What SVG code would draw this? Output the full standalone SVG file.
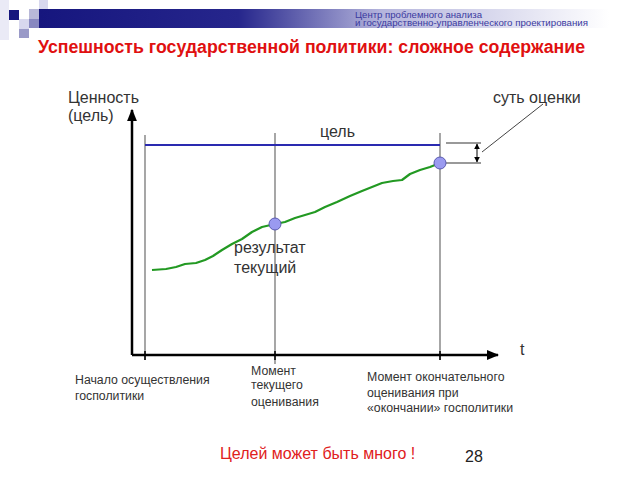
<svg xmlns="http://www.w3.org/2000/svg" width="640" height="480" viewBox="0 0 640 480">
<style>
text{font-family:"Liberation Sans",Arial,sans-serif;fill:#333}
.lbl{font-size:16px}
.sm{font-size:12.3px}
.hd{font-size:8.6px;fill:#3a3aa0}
.guide{stroke:#777;stroke-width:1.3;fill:none}
.axis{stroke:#000;stroke-width:2.5;fill:none}
.dot{fill:#9a9af0;stroke:#5a5ab0;stroke-width:1}
</style>
<defs>
<linearGradient id="bar" x1="0" y1="0" x2="1" y2="0">
<stop offset="0" stop-color="#16167e"/>
<stop offset="0.35" stop-color="#26268c"/>
<stop offset="0.6" stop-color="#b4b4dc"/>
<stop offset="1" stop-color="#ffffff"/>
</linearGradient>
<marker id="ah" viewBox="0 0 10 10" refX="9" refY="5" markerWidth="6" markerHeight="6" orient="auto-start-reverse" markerUnits="userSpaceOnUse">
<path d="M0,0 L10,5 L0,10 z" fill="#000"/>
</marker>
<marker id="big" viewBox="0 0 10 10" refX="9" refY="5" markerWidth="5" markerHeight="5" orient="auto" markerUnits="strokeWidth">
<path d="M0,1 L10,5 L0,9 z" fill="#000"/>
</marker>
</defs>
<g id="header">
<rect x="0" y="0" width="9" height="40" fill="#eaeaf6"/>
<rect x="39" y="9" width="570" height="19" fill="url(#bar)"/>
<rect x="9" y="10" width="10" height="10" fill="#16167e"/>
<rect x="29" y="9" width="10" height="10" fill="#b8b8d8"/>
<rect x="39" y="0" width="9" height="9" fill="#d8d8ee"/>
<rect x="19" y="19" width="10" height="10" fill="#d8d8ee"/>
<rect x="29" y="19" width="10" height="9" fill="#8888c0"/>
<rect x="19" y="29" width="10" height="9" fill="#9a9ac8"/>
<text class="hd" x="355" y="17.5" textLength="127" lengthAdjust="spacingAndGlyphs">Центр проблемного анализа</text>
<text class="hd" x="355" y="26" textLength="233" lengthAdjust="spacingAndGlyphs">и государственно-управленческого проектирования</text>
<text x="38" y="53" textLength="547" lengthAdjust="spacingAndGlyphs" style="font-size:17.5px;font-weight:bold;fill:#e01010">Успешность государственной политики: сложное содержание</text>
</g>
<g id="connectors">
<line class="guide" x1="145" y1="135" x2="145" y2="360"/>
<line class="guide" x1="275" y1="133" x2="275" y2="364"/>
<line class="guide" x1="440" y1="133" x2="440" y2="360"/>
<line x1="145" y1="145" x2="440" y2="145" stroke="#2a2ab0" stroke-width="2.2"/>
<polyline fill="none" stroke="#229922" stroke-width="2.2" stroke-linejoin="round" points="152,270 166,269 176,267 185,264 196,263 205,260 213,256 222,250 232,244 242,239 252,232 262,227 275,224 285,222 295,218 305,215 315,212 325,207 337,202 350,196 362,191 372,187 382,183 393,181 402,180 410,174 420,170 430,167 440,163"/>
<path class="axis" d="M132,355 L132,110" marker-end="url(#big)"/>
<path class="axis" d="M132,355 L498,355" marker-end="url(#big)"/>
<line x1="145" y1="351" x2="145" y2="360" stroke="#000" stroke-width="1.5"/>
<line x1="275" y1="351" x2="275" y2="360" stroke="#000" stroke-width="1.5"/>
<line x1="440" y1="351" x2="440" y2="360" stroke="#000" stroke-width="1.5"/>
<line class="guide" x1="446" y1="143" x2="481" y2="143"/>
<line class="guide" x1="446" y1="163" x2="481" y2="163"/>
<line x1="477" y1="144" x2="477" y2="162" stroke="#000" stroke-width="1" marker-start="url(#ah)" marker-end="url(#ah)"/>
<line x1="482" y1="152" x2="543" y2="104" stroke="#444" stroke-width="1"/>
</g>
<g id="node-current">
<circle class="dot" cx="275" cy="224" r="6"/>
<text class="lbl" x="234" y="253">результат</text>
<text class="lbl" x="234" y="273">текущий</text>
</g>
<g id="node-final">
<circle class="dot" cx="440" cy="163" r="6"/>
</g>
<g id="labels">
<text class="lbl" x="68" y="103">Ценность</text>
<text class="lbl" x="68" y="121">(цель)</text>
<text class="lbl" x="320" y="137">цель</text>
<text class="lbl" x="493" y="103">суть оценки</text>
<text class="lbl" x="520" y="355">t</text>
<text class="sm" x="75" y="384">Начало осуществления</text>
<text class="sm" x="75" y="400">госполитики</text>
<text class="sm" x="251" y="375">Момент</text>
<text class="sm" x="251" y="389">текущего</text>
<text class="sm" x="251" y="406">оценивания</text>
<text class="sm" x="367" y="381">Момент окончательного</text>
<text class="sm" x="367" y="397">оценивания при</text>
<text class="sm" x="367" y="412">«окончании» госполитики</text>
<text x="220" y="459" style="font-size:16px;fill:#e02020">Целей может быть много !</text>
<text x="465" y="462" style="font-size:16px;fill:#222">28</text>
</g>
</svg>
